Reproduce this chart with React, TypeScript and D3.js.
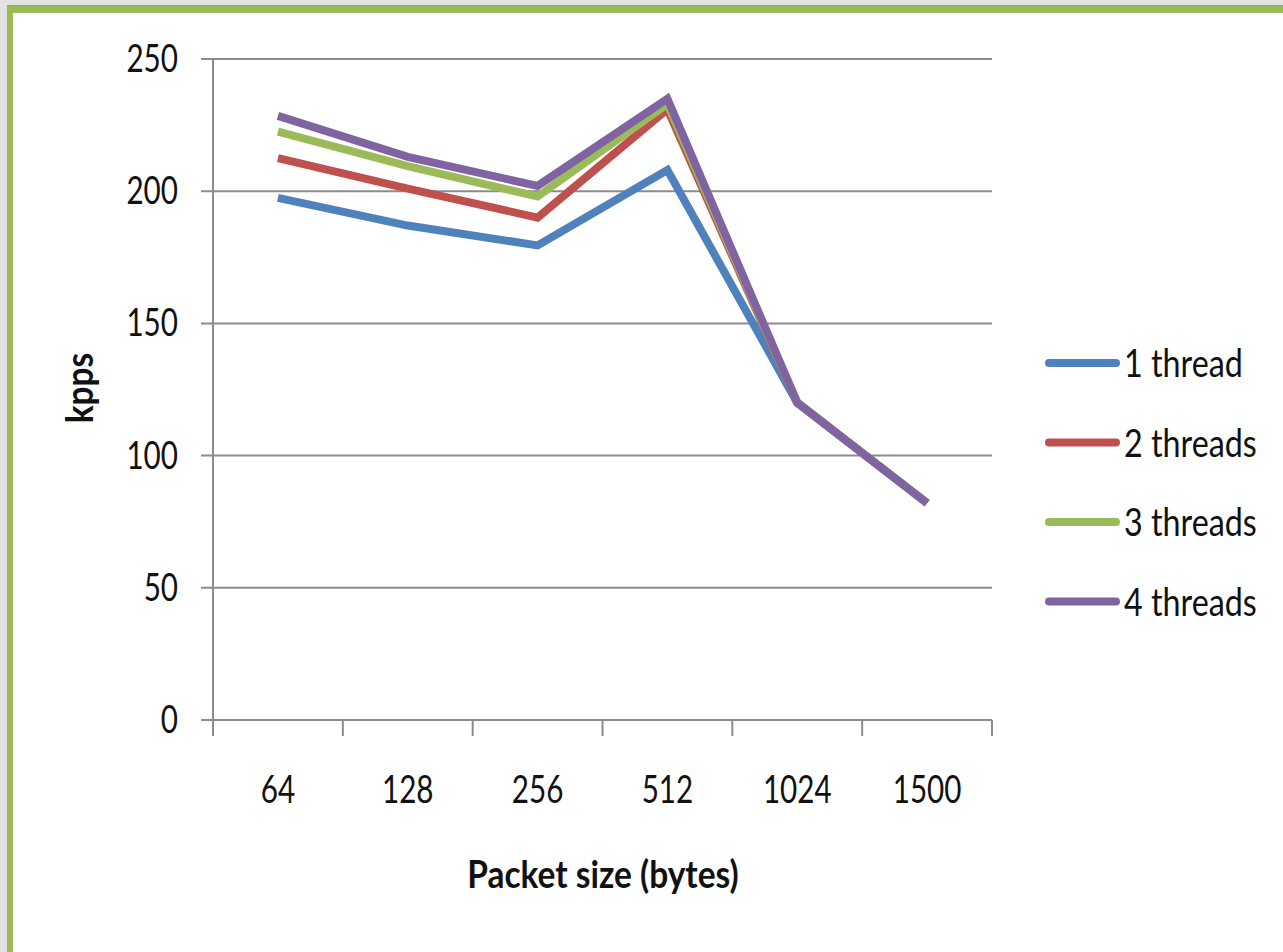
import React from "react";
import * as d3 from "d3";

// Packet sizes on the x axis (bytes)
const packetSizes = ["64", "128", "256", "512", "1024", "1500"];

// Throughput in kpps per thread count
const oneThread = [197.5, 187, 179.5, 208, 120, 82];
const twoThreads = [212.5, 201, 190, 231, 120, 82];
const threeThreads = [222.5, 209.5, 198, 233, 120, 82];
const fourThreads = [228.5, 213, 202, 235, 120, 82];

const seriesNames = ["1 thread", "2 threads", "3 threads", "4 threads"];
const seriesColors = ["#4f81bd", "#c0504d", "#9bbb59", "#8064a2"];
const yTicks = [0, 50, 100, 150, 200, 250];

const W = 1283;
const H = 952;
const FONT = "Lato, 'Open Sans', sans-serif";
const SX = 0.78; // condensed tick labels
const SX_LEGEND = 0.85;
const SX_TITLE = 0.88;

export default function App() {
  const series = [oneThread, twoThreads, threeThreads, fourThreads];
  const x = d3.scaleBand<string>().domain(packetSizes).range([213, 992]);
  const y = d3.scaleLinear().domain([0, 250]).range([720, 59]);
  const line = d3
    .line<number>()
    .x((_, i) => (x(packetSizes[i]) as number) + x.bandwidth() / 2)
    .y((d) => y(d));

  const grid = "#8c8c8c";
  const boundaries = packetSizes.map((p) => x(p) as number).concat([x.range()[1]]);

  return (
    <svg
      width={W}
      height={H}
      style={{ position: "absolute", left: 0, top: 0, display: "block" }}
    >
      {/* frame */}
      <rect x={0} y={0} width={W} height={H} fill="#e2e2e2" />
      <rect x={7} y={5} width={W} height={H} fill="#9bbb59" />
      <rect x={7} y={5} width={W} height={1} fill="#8fa86a" />
      <rect x={13} y={13} width={W} height={H} fill="#ffffff" />

      {/* horizontal gridlines and y ticks */}
      {yTicks.map((t) => (
        <g key={t}>
          <line x1={201} x2={992} y1={y(t)} y2={y(t)} stroke={grid} strokeWidth={2} />
          <text
            transform={`translate(178,${y(t) + 13}) scale(${SX},1)`}
            textAnchor="end"
            fontFamily={FONT}
            fontSize={38}
            fill="#111"
          >
            {t}
          </text>
        </g>
      ))}

      {/* y axis */}
      <line x1={213} x2={213} y1={59} y2={720} stroke={grid} strokeWidth={2} />

      {/* x tick marks */}
      {boundaries.map((b, i) => (
        <line key={i} x1={b} x2={b} y1={720} y2={736} stroke={grid} strokeWidth={2} />
      ))}

      {/* x tick labels */}
      {packetSizes.map((p) => (
        <text
          key={p}
          transform={`translate(${(x(p) as number) + x.bandwidth() / 2},803) scale(${SX},1)`}
          textAnchor="middle"
          fontFamily={FONT}
          fontSize={38}
          fill="#111"
        >
          {p}
        </text>
      ))}

      {/* series lines */}
      {series.map((s, i) => (
        <path
          key={seriesNames[i]}
          d={line(s) as string}
          fill="none"
          stroke={seriesColors[i]}
          strokeWidth={8}
          strokeLinejoin="miter"
          strokeLinecap="butt"
        />
      ))}

      {/* axis titles */}
      <text
        transform={`translate(93,388) rotate(-90) scale(${SX_TITLE},1)`}
        textAnchor="middle"
        fontFamily={FONT}
        fontWeight="bold"
        fontSize={38}
        fill="#111"
      >
        kpps
      </text>
      <text
        transform={`translate(603,888) scale(${SX_TITLE},1)`}
        textAnchor="middle"
        fontFamily={FONT}
        fontWeight="bold"
        fontSize={38}
        fill="#111"
      >
        Packet size (bytes)
      </text>

      {/* legend */}
      {seriesNames.map((n, i) => {
        const ly = 363 + i * 79.5;
        return (
          <g key={n}>
            <line
              x1={1049}
              x2={1116}
              y1={ly}
              y2={ly}
              stroke={seriesColors[i]}
              strokeWidth={8}
              strokeLinecap="round"
            />
            <text
              transform={`translate(1124,${ly + 14}) scale(${SX_LEGEND},1)`}
              fontFamily={FONT}
              fontSize={38}
              fill="#111"
            >
              {n}
            </text>
          </g>
        );
      })}
    </svg>
  );
}
